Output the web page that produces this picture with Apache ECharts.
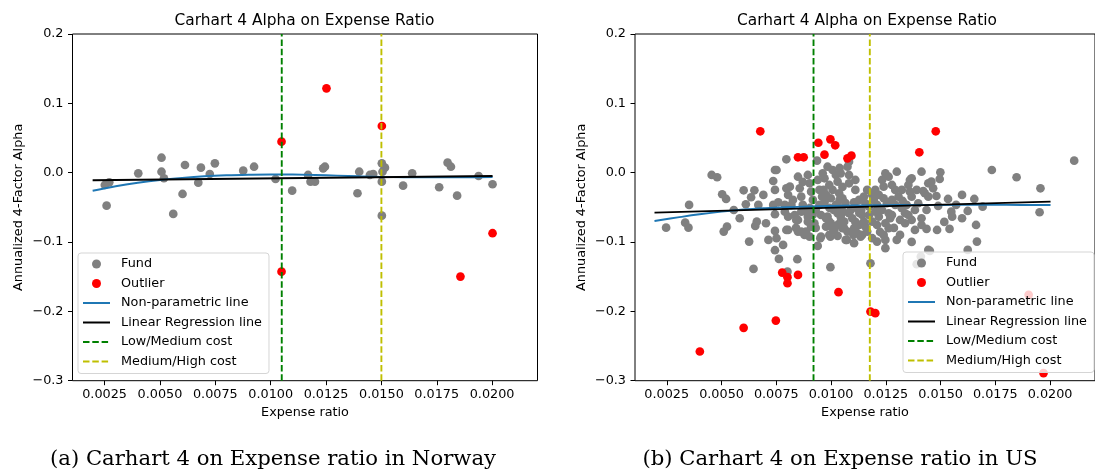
<!DOCTYPE html>
<html>
<head>
<meta charset="utf-8">
<script src="https://cdn.jsdelivr.net/npm/echarts@6/dist/echarts.min.js"></script>
<style>
html,body{margin:0;padding:0;background:#fff;}
#chart{width:1095px;height:470px;}
</style>
</head>
<body>
<div id="chart"></div>
<script>
// ---------- Data ----------
const xTicks = [0.0025, 0.005, 0.0075, 0.01, 0.0125, 0.015, 0.0175, 0.02];
const yTicks = [-0.3, -0.2, -0.1, 0, 0.1, 0.2];
const xLimits = [0.00105, 0.02205];
const yLimits = [-0.3, 0.2];

const norwayFund = [
[0.00251,-0.0177],[0.00271,-0.0139],[0.00259,-0.0476],[0.00402,-0.0009],[0.00507,0.0216],[0.00507,0.0014],
[0.00518,-0.008],[0.00613,0.0111],[0.00602,-0.0307],[0.0056,-0.0595],[0.00673,-0.0144],[0.00685,0.0072],
[0.00725,-0.0019],[0.00748,0.0135],[0.00876,0.0029],[0.00925,0.0086],[0.01022,-0.0091],[0.01097,-0.0259],
[0.01169,-0.0033],[0.0118,-0.013],[0.0120,-0.013],[0.01237,0.0063],[0.01245,0.0086],[0.0140,0.0014],
[0.01392,-0.0297],[0.01448,-0.0033],[0.01463,-0.0019],[0.01502,0.0135],[0.01516,0.0072],[0.01505,0.0014],
[0.01502,-0.013],[0.01502,-0.062],[0.01598,-0.0187],[0.01639,-0.0009],[0.01761,-0.021],[0.01799,0.0144],
[0.01814,0.0086],[0.01842,-0.0331],[0.01939,-0.0048],[0.02002,-0.0167]
];
const norwayOutlier = [[0.01049,0.0447],[0.01049,-0.1427],[0.01252,0.1216],[0.01502,0.0673],[0.02002,-0.0873],[0.01857,-0.1499]];
const norwayNonParam = [
[0.00196,-0.026],[0.003,-0.0195],[0.004,-0.0145],[0.005,-0.0105],[0.006,-0.0075],[0.007,-0.0052],[0.008,-0.0038],
[0.009,-0.003],[0.010,-0.0026],[0.011,-0.0027],[0.012,-0.0033],[0.013,-0.0042],[0.014,-0.0052],[0.015,-0.006],
[0.016,-0.0066],[0.017,-0.0068],[0.018,-0.0068],[0.019,-0.0066],[0.02002,-0.0063]
];
const norwayLinear = [[0.00196,-0.0110],[0.02002,-0.0048]];
const norwayLowMedium = 0.0105;
const norwayMediumHigh = 0.015;

const usFund = [
[0.00796,0.0193],[0.00744,0.0039],[0.00751,0.0039],[0.00736,-0.012],[0.00744,-0.0249],[0.00796,-0.0225],[0.00455,-0.0033],[0.0048,-0.0066],
[0.00503,-0.0311],[0.00521,-0.0379],[0.00601,-0.0254],[0.0065,-0.0254],[0.00635,-0.0354],[0.00611,-0.0455],[0.00352,-0.0465],[0.00736,-0.0465],
[0.00759,-0.0427],[0.00789,-0.0465],[0.00744,-0.0599],[0.00789,-0.0562],[0.00334,-0.0721],[0.00349,-0.0793],[0.00247,-0.0793],[0.00583,-0.0657],
[0.00661,-0.0706],[0.00654,-0.0768],[0.00703,-0.0729],[0.00525,-0.0778],[0.0051,-0.085],[0.00744,-0.084],[0.00751,-0.0945],[0.00796,-0.0826],
[0.00626,-0.0994],[0.00744,-0.1118],[0.00762,-0.1244],[0.00646,-0.1388],[0.00846,-0.1248],[0.00801,-0.1427],[0.00997,-0.1363],[0.00951,-0.0945],
[0.00997,-0.0922],[0.01072,-0.097],[0.01105,-0.1017],[0.00864,-0.085],[0.00879,-0.0898],[0.00849,-0.0682],[0.00834,-0.061],[0.00894,-0.0634],
[0.00924,-0.0729],[0.00984,-0.0634],[0.00999,-0.0729],[0.01044,-0.0706],[0.01015,-0.0826],[0.0106,-0.0801],[0.0112,-0.0873],[0.01135,-0.0922],
[0.00936,0.0173],[0.00849,-0.0058],[0.00894,-0.0033],[0.00812,-0.0202],[0.00804,-0.0321],[0.00857,-0.0225],[0.00864,-0.0346],[0.00902,-0.0153],
[0.00909,-0.0274],[0.00819,-0.0465],[0.00864,-0.0562],[0.00886,-0.0562],[0.00804,-0.0634],[0.00841,-0.0682],[0.00894,-0.0706],[0.00909,-0.0778],
[0.00804,-0.0826],[0.00849,-0.085],[0.00886,-0.085],[0.00902,-0.0922],
[0.00984,0.0086],[0.01007,0.0039],[0.00962,-0.0009],[0.0097,-0.0081],[0.01022,-0.0033],[0.0103,-0.013],[0.00992,-0.0177],[0.01007,-0.0249],
[0.01075,0.0086],[0.01082,-0.0033],[0.01082,-0.0153],[0.00947,-0.0249],[0.00959,-0.0346],[0.00977,-0.0321],[0.00999,-0.0369],[0.01037,-0.0297],
[0.01052,-0.0369],[0.00947,-0.0465],[0.0097,-0.0427],[0.01022,-0.0465],[0.01044,-0.0513],[0.01105,-0.0427],[0.01128,-0.0393],[0.0115,-0.0346],
[0.0109,-0.0538],[0.0112,-0.0513],[0.01157,-0.0441],[0.01173,-0.049],[0.00954,-0.061],[0.00977,-0.0657],[0.00992,-0.0706],[0.0103,-0.0585],
[0.01044,-0.0634],[0.0106,-0.0706],[0.01082,-0.0585],[0.01097,-0.0657],[0.01142,-0.061],[0.0115,-0.0706],[0.01128,-0.0754],[0.01105,-0.0801],
[0.00977,-0.0778],[0.01007,-0.0801],[0.0103,-0.0754],[0.01052,-0.0801],[0.01075,-0.085],[0.00954,-0.0922],[0.00992,-0.0898],[0.01142,-0.0898],
[0.01165,-0.085],[0.01067,-0.097],[0.0118,-0.1306],
[0.01248,-0.0009],[0.01263,-0.0058],[0.013,0.0014],[0.01233,-0.0105],[0.0124,-0.0202],[0.01278,-0.0177],[0.01293,-0.0249],[0.01202,-0.0249],
[0.01218,-0.0321],[0.0136,-0.0105],[0.01353,-0.0177],[0.0136,-0.0274],[0.01368,-0.0346],[0.01323,-0.0249],[0.01308,-0.0346],[0.0124,-0.0369],
[0.01255,-0.0441],[0.01195,-0.0393],[0.0121,-0.0465],[0.01278,-0.0393],[0.01293,-0.0465],[0.01413,0.0014],[0.01444,-0.0153],[0.01428,-0.0297],
[0.01444,-0.0346],[0.01398,-0.0441],[0.01383,-0.0538],[0.01323,-0.0513],[0.01338,-0.0585],[0.01202,-0.0562],[0.01218,-0.0634],[0.01263,-0.0585],
[0.0127,-0.0657],[0.01188,-0.0706],[0.0121,-0.0754],[0.01248,-0.0729],[0.01263,-0.0801],[0.01315,-0.0682],[0.01338,-0.0729],[0.01353,-0.061],
[0.01368,-0.0682],[0.01413,-0.0657],[0.01413,-0.0754],[0.01383,-0.0826],[0.01315,-0.0898],[0.0124,-0.0898],[0.01248,-0.097],[0.01188,-0.0945],
[0.0121,-0.0994],[0.01248,-0.1089],[0.01444,-0.1114],[0.01391,-0.132],[0.0141,-0.121],
[0.0211,0.0173],[0.01734,0.0039],[0.01847,-0.0066],[0.01956,-0.0225],[0.01952,-0.0571],[0.01499,0.0006],[0.01496,-0.0091],[0.01458,-0.013],
[0.01466,-0.0225],[0.01481,-0.0336],[0.01534,-0.0379],[0.01598,-0.0321],[0.01654,-0.0379],[0.01489,-0.048],[0.01549,-0.0562],[0.01553,-0.0634],
[0.01624,-0.0552],[0.01598,-0.0657],[0.01692,-0.049],[0.01662,-0.0754],[0.01541,-0.0811],[0.01484,-0.0826],[0.01436,-0.0811],[0.01666,-0.0994],
[0.01624,-0.1114],[0.01451,-0.1128],
[0.01044,-0.0009],[0.01082,0.0159],[0.01368,-0.0081],[0.01421,-0.0264],[0.00939,-0.0105],[0.01052,-0.0206],[0.01111,-0.0249],[0.01129,-0.0581],
[0.01012,-0.0538],[0.0093,-0.0538],[0.01165,-0.0249],[0.01157,-0.0778],[0.00917,-0.0393],[0.01066,-0.0437],[0.01102,-0.0898],[0.01224,-0.0855],
[0.01287,-0.0797],[0.01327,-0.0408],[0.01391,-0.0249],[0.01571,-0.0465],[0.01517,-0.071],
[0.00826,-0.0393],[0.00871,-0.0465],[0.00916,-0.061],[0.0093,-0.0797],[0.00966,-0.0249],[0.01039,-0.0393],[0.01111,-0.071],[0.01138,-0.0538],
[0.01174,-0.061],[0.01056,-0.0566],[0.00993,-0.0509],[0.00903,-0.0509],[0.0084,-0.0797],[0.00939,-0.1056],[0.0103,-0.0912],[0.00871,-0.0134],
[0.01039,0.0068],[0.01111,-0.0105],[0.01233,-0.0538],[0.01278,-0.061],[0.01345,-0.0465],[0.013,-0.097],[0.01368,-0.0999],[0.01436,-0.0538],
[0.01188,-0.0321],[0.00668,-0.0465],[0.00691,-0.0321],[0.00556,-0.0538],[0.00714,-0.097],[0.00781,-0.1042]
];
const usOutlier = [
[0.00677,0.0597],[0.00942,0.0432],[0.00997,0.0481],[0.01019,0.0395],[0.0097,0.026],[0.00849,0.0222],[0.00875,0.0222],
[0.01075,0.0207],[0.01093,0.0245],[0.01478,0.0597],[0.01403,0.0294],[0.00777,-0.1441],[0.00801,-0.1507],[0.00801,-0.1594],
[0.00849,-0.1474],[0.01034,-0.1723],[0.00748,-0.2133],[0.00601,-0.2238],[0.00401,-0.2579],[0.0118,-0.2003],[0.01202,-0.2026],
[0.01902,-0.1762],[0.0197,-0.289]
];
const usNonParam = [
[0.00194,-0.0696],[0.003,-0.0645],[0.004,-0.06],[0.005,-0.0562],[0.006,-0.0532],[0.007,-0.0512],[0.008,-0.0498],
[0.009,-0.0488],[0.010,-0.048],[0.011,-0.0474],[0.012,-0.047],[0.013,-0.0467],[0.014,-0.0466],[0.016,-0.0465],
[0.018,-0.0465],[0.02002,-0.0466]
];
const usLinear = [[0.00194,-0.0576],[0.02002,-0.0418]];
const usLowMedium = 0.0092;
const usMediumHigh = 0.01177;

const names = ['Fund','Outlier','Non-parametric line','Linear Regression line','Low/Medium cost','Medium/High cost'];
const plotTitle = 'Carhart 4 Alpha on Expense Ratio';
const captions = ['(a) Carhart 4 on Expense ratio in Norway', '(b) Carhart 4 on Expense ratio in US'];

// ---------- Build ----------
const FONT = 'DejaVu Sans';
const FS = 12.8;
const grids = [
  {left: 72.5, top: 34, width: 465, height: 346.7},
  {left: 635, top: 34, width: 465, height: 346.7}
];
const fmtY = v => v.toFixed(1).replace('-', '\u2212');

function vline(v) { return [[v, yLimits[0]], [v, yLimits[1]]]; }

function seriesFor(i, fund, outlier, nonParam, linear, lowMed, medHigh) {
  const base = {xAxisIndex: i, yAxisIndex: i};
  return [
    Object.assign({type:'scatter', name:names[0], data:fund, symbolSize:8.7, itemStyle:{color:'#808080', opacity:1}}, base),
    Object.assign({type:'scatter', name:names[1], data:outlier, symbolSize:8.7, itemStyle:{color:'#ff0000', opacity:1}}, base),
    Object.assign({type:'line', name:names[2], data:nonParam, smooth:0.4, symbol:'none', lineStyle:{color:'#1f77b4', width:1.9}, itemStyle:{color:'#1f77b4'}}, base),
    Object.assign({type:'line', name:names[3], data:linear, symbol:'none', lineStyle:{color:'#000000', width:1.9}, itemStyle:{color:'#000000'}}, base),
    Object.assign({type:'line', name:names[4], data:vline(lowMed), symbol:'none', lineStyle:{color:'#008000', width:1.9, type:[6.5,2.8]}, itemStyle:{color:'#008000'}}, base),
    Object.assign({type:'line', name:names[5], data:vline(medHigh), symbol:'none', lineStyle:{color:'#bfbf00', width:1.9, type:[6.5,2.8]}, itemStyle:{color:'#bfbf00'}}, base)
  ];
}

const legendData = names.map((n, k) => k < 2 ? {name:n} : {name:n, itemStyle:{opacity:0}});
const legendBase = {
  orient:'vertical', data:legendData, itemWidth:27, itemHeight:9, itemGap:5.5,
  padding:[4,7,5,4], backgroundColor:'rgba(255,255,255,0.8)', borderColor:'#d5d5d5',
  borderWidth:1, borderRadius:3, selectedMode:false,
  textStyle:{fontSize:FS, fontFamily:FONT, color:'#000', lineHeight:14, padding:[0,0,0,6]}
};

const option = {
  animation:false,
  backgroundColor:'#ffffff',
  grid: grids.map(g => Object.assign({show:true, borderColor:'#000', borderWidth:1, backgroundColor:'transparent'}, g)),
  xAxis: [0,1].map(i => ({
    type:'value', gridIndex:i, min:xLimits[0], max:xLimits[1],
    axisLine:{show:false, onZero:false}, splitLine:{show:false},
    axisTick:{show:true, length:4.5, lineStyle:{color:'#000', width:1}, customValues:xTicks},
    axisLabel:{customValues:xTicks, formatter:v => v.toFixed(4), color:'#000', fontSize:FS, fontFamily:FONT, margin:7},
    name:'Expense ratio', nameLocation:'middle', nameGap:25,
    nameTextStyle:{color:'#000', fontSize:FS, fontFamily:FONT}
  })),
  yAxis: [0,1].map(i => ({
    type:'value', gridIndex:i, min:yLimits[0], max:yLimits[1],
    axisLine:{show:false, onZero:false}, splitLine:{show:false},
    axisTick:{show:true, length:4.5, lineStyle:{color:'#000', width:1}, customValues:yTicks},
    axisLabel:{customValues:yTicks, formatter:fmtY, color:'#000', fontSize:FS, fontFamily:FONT, margin:9},
    name:'Annualized 4-Factor Alpha', nameLocation:'middle', nameGap:47, nameRotate:90,
    nameTextStyle:{color:'#000', fontSize:FS, fontFamily:FONT}
  })),
  legend: [
    Object.assign({left:78, top:253}, legendBase),
    Object.assign({left:903, top:252}, legendBase)
  ],
  graphic: [
    {type:'text', x:304.5, y:20.7, style:{text:plotTitle, fill:'#000', font:'15.4px "DejaVu Sans"', textAlign:'center', textVerticalAlign:'middle'}},
    {type:'text', x:867, y:20.7, style:{text:plotTitle, fill:'#000', font:'15.4px "DejaVu Sans"', textAlign:'center', textVerticalAlign:'middle'}},
    {type:'text', x:273, y:459, style:{text:captions[0], fill:'#000', font:'21.2px "DejaVu Serif"', textAlign:'center', textVerticalAlign:'middle'}},
    {type:'text', x:840, y:459, style:{text:captions[1], fill:'#000', font:'21.2px "DejaVu Serif"', textAlign:'center', textVerticalAlign:'middle'}}
  ],
  series: [].concat(
    seriesFor(0, norwayFund, norwayOutlier, norwayNonParam, norwayLinear, norwayLowMedium, norwayMediumHigh),
    seriesFor(1, usFund, usOutlier, usNonParam, usLinear, usLowMedium, usMediumHigh)
  )
};

const chart = echarts.init(document.getElementById('chart'), null, {renderer:'canvas'});
chart.setOption(option);
</script>
</body>
</html>
